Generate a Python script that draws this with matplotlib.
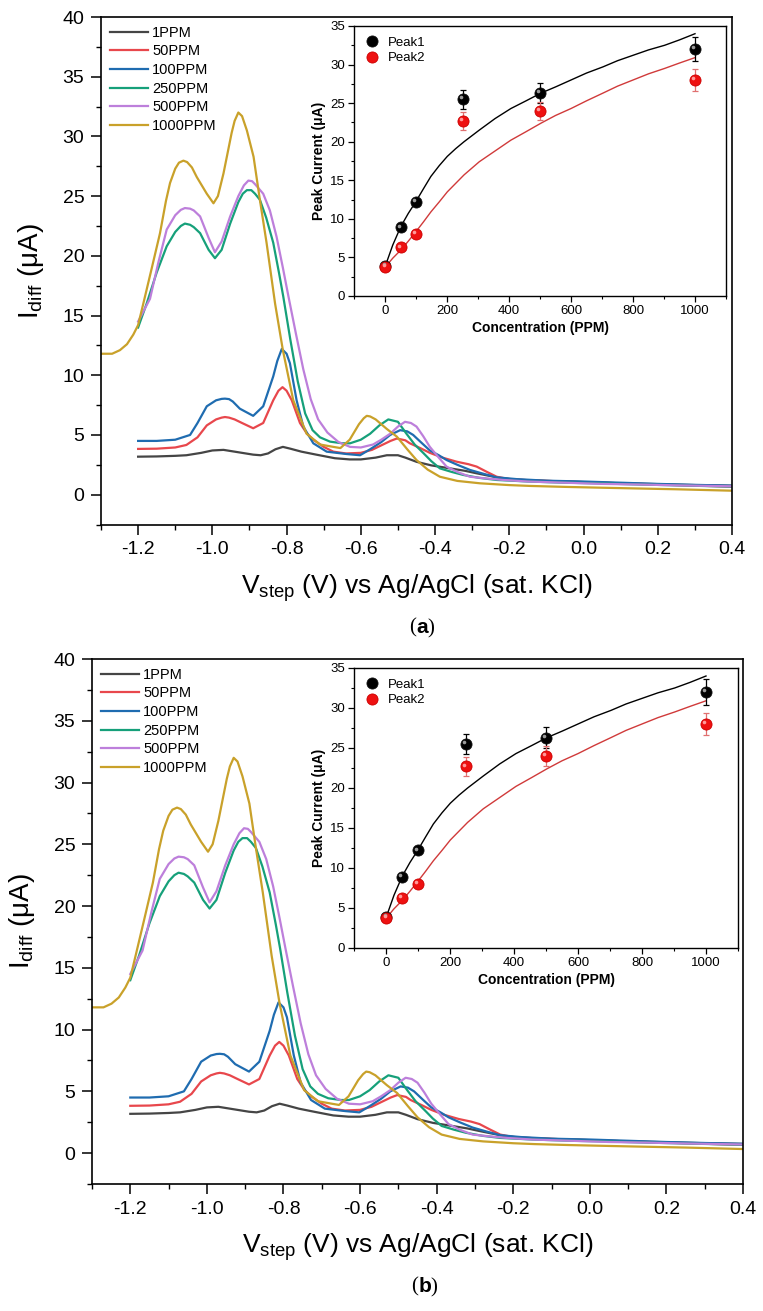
import matplotlib
matplotlib.use("Agg")
import matplotlib.pyplot as plt
from matplotlib.ticker import MultipleLocator, FormatStrFormatter
from matplotlib.transforms import ScaledTranslation

plt.rcParams['font.family'] = ['Liberation Sans', 'DejaVu Sans']
plt.rcParams['axes.unicode_minus'] = False
plt.rcParams['mathtext.fontset'] = 'custom'
plt.rcParams['mathtext.rm'] = 'Liberation Sans'
plt.rcParams['mathtext.it'] = 'Liberation Sans:italic'
plt.rcParams['mathtext.bf'] = 'Liberation Sans:bold'

# ---------------- DPV curves ----------------
v_1ppm = [-1.20, -1.15, -1.10, -1.07, -1.03, -1.00, -0.97, -0.94, -0.92, -0.89, -0.87, -0.85, -0.83, -0.81,
          -0.79, -0.76, -0.72, -0.67, -0.63, -0.60, -0.56, -0.53, -0.50, -0.48, -0.45, -0.41, -0.36, -0.32,
          -0.29, -0.25, -0.22, -0.18, -0.10, 0.00, 0.10, 0.20, 0.30, 0.40]
i_1ppm = [3.18, 3.20, 3.25, 3.30, 3.50, 3.70, 3.75, 3.60, 3.50, 3.35, 3.30, 3.45, 3.80, 4.00,
          3.85, 3.60, 3.35, 3.05, 2.95, 2.95, 3.10, 3.30, 3.30, 3.10, 2.75, 2.45, 2.20, 2.00,
          1.80, 1.55, 1.37, 1.25, 1.15, 1.05, 0.95, 0.88, 0.80, 0.75]

v_50ppm = [-1.20, -1.15, -1.10, -1.07, -1.04, -1.015, -0.99, -0.975, -0.966, -0.955, -0.94, -0.92, -0.89,
           -0.863, -0.836, -0.822, -0.811, -0.80, -0.786, -0.764, -0.745, -0.728, -0.70, -0.674, -0.64,
           -0.60, -0.57, -0.54, -0.52, -0.503, -0.48, -0.468, -0.44, -0.414, -0.38, -0.342, -0.31, -0.288,
           -0.26, -0.234, -0.20, -0.144, -0.05, 0.05, 0.15, 0.25, 0.40]
i_50ppm = [3.83, 3.85, 3.95, 4.16, 4.80, 5.80, 6.30, 6.45, 6.50, 6.45, 6.30, 6.00, 5.56,
           6.00, 7.90, 8.70, 9.00, 8.70, 7.90, 6.00, 5.10, 4.60, 4.00, 3.60, 3.45,
           3.50, 3.75, 4.20, 4.50, 4.70, 4.55, 4.30, 3.90, 3.50, 3.10, 2.76, 2.55, 2.35,
           1.90, 1.50, 1.30, 1.20, 1.10, 1.00, 0.90, 0.80, 0.67]

v_100ppm = [-1.20, -1.15, -1.10, -1.06, -1.04, -1.015, -0.99, -0.975, -0.966, -0.955, -0.945, -0.926,
            -0.89, -0.863, -0.836, -0.825, -0.813, -0.80, -0.791, -0.773, -0.755, -0.728, -0.692, -0.638,
            -0.602, -0.575, -0.545, -0.521, -0.494, -0.475, -0.459, -0.435, -0.414, -0.39, -0.369, -0.34,
            -0.306, -0.27, -0.234, -0.18, -0.10, 0.00, 0.10, 0.20, 0.30, 0.40]
i_100ppm = [4.50, 4.50, 4.60, 5.00, 6.00, 7.40, 7.90, 8.02, 8.04, 8.00, 7.80, 7.20,
            6.60, 7.40, 9.90, 11.20, 12.20, 11.80, 11.00, 7.90, 5.70, 4.30, 3.60, 3.40,
            3.30, 3.80, 4.40, 5.00, 5.40, 5.30, 5.00, 4.30, 3.70, 3.30, 2.90, 2.50,
            2.07, 1.75, 1.45, 1.30, 1.17, 1.10, 1.00, 0.90, 0.82, 0.75]

v_250ppm = [-1.20, -1.177, -1.15, -1.123, -1.10, -1.085, -1.074, -1.06, -1.05, -1.033, -1.01, -0.993,
            -0.975, -0.952, -0.93, -0.918, -0.907, -0.895, -0.885, -0.872, -0.855, -0.836, -0.82, -0.809,
            -0.79, -0.77, -0.75, -0.73, -0.71, -0.683, -0.65, -0.629, -0.60, -0.575, -0.55, -0.526, -0.50,
            -0.477, -0.455, -0.432, -0.41, -0.387, -0.355, -0.324, -0.28, -0.234, -0.15, -0.05, 0.035,
            0.15, 0.25, 0.40]
i_250ppm = [14.0, 16.0, 18.6, 20.8, 22.0, 22.5, 22.7, 22.6, 22.4, 21.9, 20.5, 19.8,
            20.5, 22.7, 24.5, 25.2, 25.5, 25.5, 25.2, 24.7, 23.2, 21.1, 18.5, 16.6,
            13.0, 9.5, 6.8, 5.4, 4.8, 4.44, 4.30, 4.30, 4.60, 5.10, 5.80, 6.30, 6.10,
            5.10, 4.20, 3.50, 2.80, 2.20, 1.90, 1.65, 1.40, 1.23, 1.10, 1.00, 0.95,
            0.85, 0.78, 0.67]

v_500ppm = [-1.20, -1.168, -1.145, -1.123, -1.10, -1.085, -1.074, -1.06, -1.05, -1.033, -1.01, -0.993,
            -0.975, -0.952, -0.93, -0.915, -0.903, -0.893, -0.885, -0.863, -0.845, -0.827, -0.81, -0.795,
            -0.775, -0.755, -0.735, -0.715, -0.69, -0.66, -0.629, -0.60, -0.567, -0.545, -0.521, -0.50,
            -0.481, -0.465, -0.45, -0.432, -0.414, -0.39, -0.369, -0.34, -0.306, -0.26, -0.216, -0.15,
            -0.05, 0.05, 0.15, 0.25, 0.40]
i_500ppm = [14.5, 16.4, 19.5, 22.2, 23.4, 23.85, 24.0, 23.95, 23.8, 23.3, 21.5, 20.3,
            21.2, 23.3, 25.0, 25.9, 26.3, 26.25, 26.0, 25.2, 23.8, 21.6, 19.0, 16.6,
            13.5, 10.5, 8.0, 6.3, 5.2, 4.4, 4.0, 3.95, 4.2, 4.6, 5.1, 5.7,
            6.1, 6.0, 5.7, 4.9, 4.0, 3.1, 2.35, 1.9, 1.5, 1.35, 1.23, 1.10,
            1.00, 0.90, 0.85, 0.78, 0.70]

v_1000ppm = [-1.30, -1.27, -1.249, -1.23, -1.213, -1.20, -1.186, -1.163, -1.141, -1.125, -1.114, -1.10,
             -1.09, -1.078, -1.068, -1.055, -1.042, -1.015, -0.997, -0.985, -0.97, -0.948, -0.94, -0.93,
             -0.92, -0.907, -0.889, -0.872, -0.854, -0.831, -0.81, -0.782, -0.746, -0.71, -0.674, -0.655,
             -0.63, -0.605, -0.592, -0.584, -0.575, -0.56, -0.53, -0.503, -0.475, -0.45, -0.42, -0.387,
             -0.34, -0.279, -0.20, -0.144, -0.05, 0.05, 0.125, 0.25, 0.40]
i_1000ppm = [11.8, 11.8, 12.1, 12.6, 13.4, 14.2, 16.0, 19.0, 21.9, 24.6, 26.1, 27.3,
             27.8, 27.97, 27.85, 27.4, 26.6, 25.2, 24.4, 25.0, 26.9, 30.3, 31.3, 32.0,
             31.7, 30.5, 28.3, 24.7, 21.1, 16.0, 12.1, 7.9, 5.1, 4.2, 4.0, 3.9,
             4.6, 5.9, 6.4, 6.6, 6.55, 6.3, 5.5, 4.86, 3.8, 2.9, 2.1, 1.5,
             1.15, 0.95, 0.80, 0.73, 0.65, 0.58, 0.53, 0.45, 0.33]

series_labels = ['1PPM', '50PPM', '100PPM', '250PPM', '500PPM', '1000PPM']
series_colors = ['#454545', '#e8474c', '#1f6cb0', '#16a07a', '#bd7fdb', '#c9a12a']
series_v = [v_1ppm, v_50ppm, v_100ppm, v_250ppm, v_500ppm, v_1000ppm]
series_i = [i_1ppm, i_50ppm, i_100ppm, i_250ppm, i_500ppm, i_1000ppm]

# ---------------- Inset: peak current vs concentration ----------------
conc = [1, 50, 100, 250, 500, 1000]
peak1 = [3.9, 8.9, 12.2, 25.5, 26.3, 32.0]
peak1_err = [0.3, 0.3, 0.3, 1.25, 1.3, 1.6]
peak2 = [3.8, 6.3, 8.0, 22.7, 24.0, 28.0]
peak2_err = [0.3, 0.3, 0.3, 1.2, 1.2, 1.4]

fit_x = [2, 25, 51, 75, 99, 124, 148, 175, 201, 228, 255, 304, 355, 406, 455, 503, 550, 600, 650,
         703, 750, 800, 850, 902, 950, 1000]
fit1_y = [4.0, 6.6, 9.0, 10.7, 12.2, 13.9, 15.5, 16.9, 18.1, 19.1, 20.0, 21.5, 23.0, 24.3, 25.3,
          26.3, 27.1, 28.0, 28.9, 29.7, 30.5, 31.2, 31.9, 32.5, 33.2, 34.0]
fit2_y = [3.8, 4.9, 5.96, 7.1, 8.3, 9.6, 10.9, 12.2, 13.5, 14.6, 15.7, 17.4, 18.8, 20.2, 21.3,
          22.4, 23.4, 24.3, 25.3, 26.3, 27.2, 28.0, 28.8, 29.5, 30.2, 30.9]

W, H = 763, 1311
fig = plt.figure(figsize=(W / 100, H / 100), dpi=100)


def rect(l, r, t, b):
    return [l / W, 1 - b / H, (r - l) / W, (b - t) / H]


def draw_panel(main_px, inset_px, caption, cap_y):
    ax = fig.add_axes(rect(*main_px))
    for v, i, c, lab in zip(series_v, series_i, series_colors, series_labels):
        ax.plot(v, i, color=c, lw=1.6, label=lab, solid_joinstyle='round')
    ax.set_xlim(-1.3, 0.4)
    ax.set_ylim(-2.5, 40)
    ax.xaxis.set_minor_locator(MultipleLocator(0.1))
    ax.xaxis.set_major_formatter(FormatStrFormatter('%.1f'))
    ax.yaxis.set_major_locator(MultipleLocator(5))
    ax.yaxis.set_minor_locator(MultipleLocator(2.5))
    ax.set_xticks([-1.2, -1.0, -0.8, -0.6, -0.4, -0.2, 0.0, 0.2, 0.4])
    ax.tick_params(which='major', direction='out', length=7, width=1.1, labelsize=14, pad=5)
    ax.tick_params(which='minor', direction='out', length=3.5, width=1.0)
    for s in ax.spines.values():
        s.set_linewidth(1.2)
    ax.set_xlabel(r'V$_{\mathrm{step}}$ (V) vs Ag/AgCl (sat. KCl)', fontsize=19, labelpad=10)
    ax.set_ylabel(r'I$_{\mathrm{diff}}$ (μA)', fontsize=20, labelpad=12)
    ax.legend(loc='upper left', frameon=False, fontsize=10.5, handlelength=2.6,
              handletextpad=0.3, labelspacing=0.32, borderaxespad=0.3, borderpad=0.3)

    axi = fig.add_axes(rect(*inset_px))
    axi.plot(fit_x, fit1_y, color='black', lw=1.0, zorder=2)
    axi.plot(fit_x, fit2_y, color='#d03a3a', lw=1.0, zorder=2)
    axi.errorbar(conc, peak1, yerr=peak1_err, fmt='none', ecolor='black', elinewidth=0.9,
                 capsize=2.5, capthick=0.9, zorder=3)
    axi.errorbar(conc, peak2, yerr=peak2_err, fmt='none', ecolor='#e07070', elinewidth=0.9,
                 capsize=2.5, capthick=0.9, zorder=3)
    h1, = axi.plot(conc, peak1, 'o', color='black', ms=8, mec='#111111', mew=0.6, zorder=4, label='Peak1')
    h2, = axi.plot(conc, peak2, 'o', color='#ee1111', ms=8, mec='#cc0000', mew=0.6, zorder=5, label='Peak2')
    off = axi.transData + ScaledTranslation(-1.3 / 72, 1.3 / 72, fig.dpi_scale_trans)
    axi.plot(conc, peak1, 'o', color='#9a9a9a', ms=2.6, mew=0, transform=off, zorder=6)
    axi.plot(conc, peak2, 'o', color='#ff9a9a', ms=2.6, mew=0, transform=off, zorder=6)
    axi.set_xlim(-100, 1100)
    axi.set_ylim(0, 35)
    axi.xaxis.set_major_locator(MultipleLocator(200))
    axi.xaxis.set_minor_locator(MultipleLocator(100))
    axi.yaxis.set_major_locator(MultipleLocator(5))
    axi.yaxis.set_minor_locator(MultipleLocator(2.5))
    axi.tick_params(which='major', direction='out', length=4, width=0.9, labelsize=9.5, pad=2.5)
    axi.tick_params(which='minor', direction='out', length=2, width=0.8)
    for s in axi.spines.values():
        s.set_linewidth(1.0)
    axi.set_xlabel('Concentration (PPM)', fontsize=10, fontweight='bold', labelpad=3)
    axi.set_ylabel('Peak Current (μA)', fontsize=10, fontweight='bold', labelpad=3)
    axi.legend(handles=[h1, h2], loc='upper left', frameon=False, fontsize=9.5, handlelength=1.2,
               handletextpad=0.6, labelspacing=0.25, borderaxespad=0.4, borderpad=0.4)

    cx = 0.5 * (main_px[0] + main_px[1]) / W
    fig.text(cx, 1 - cap_y / H, '(', fontsize=15, family='Liberation Serif', ha='right', va='center')
    fig.text(cx, 1 - cap_y / H, caption + ')', fontsize=15, family='Liberation Serif',
             ha='left', va='center')


draw_panel((101, 732, 17, 524.5), (354, 726, 26, 296), r'$\mathbf{a}$', 628)
draw_panel((92, 743, 659, 1184), (354, 738, 668, 948), r'$\mathbf{b}$', 1287)

fig.savefig('out.png', dpi=100)
